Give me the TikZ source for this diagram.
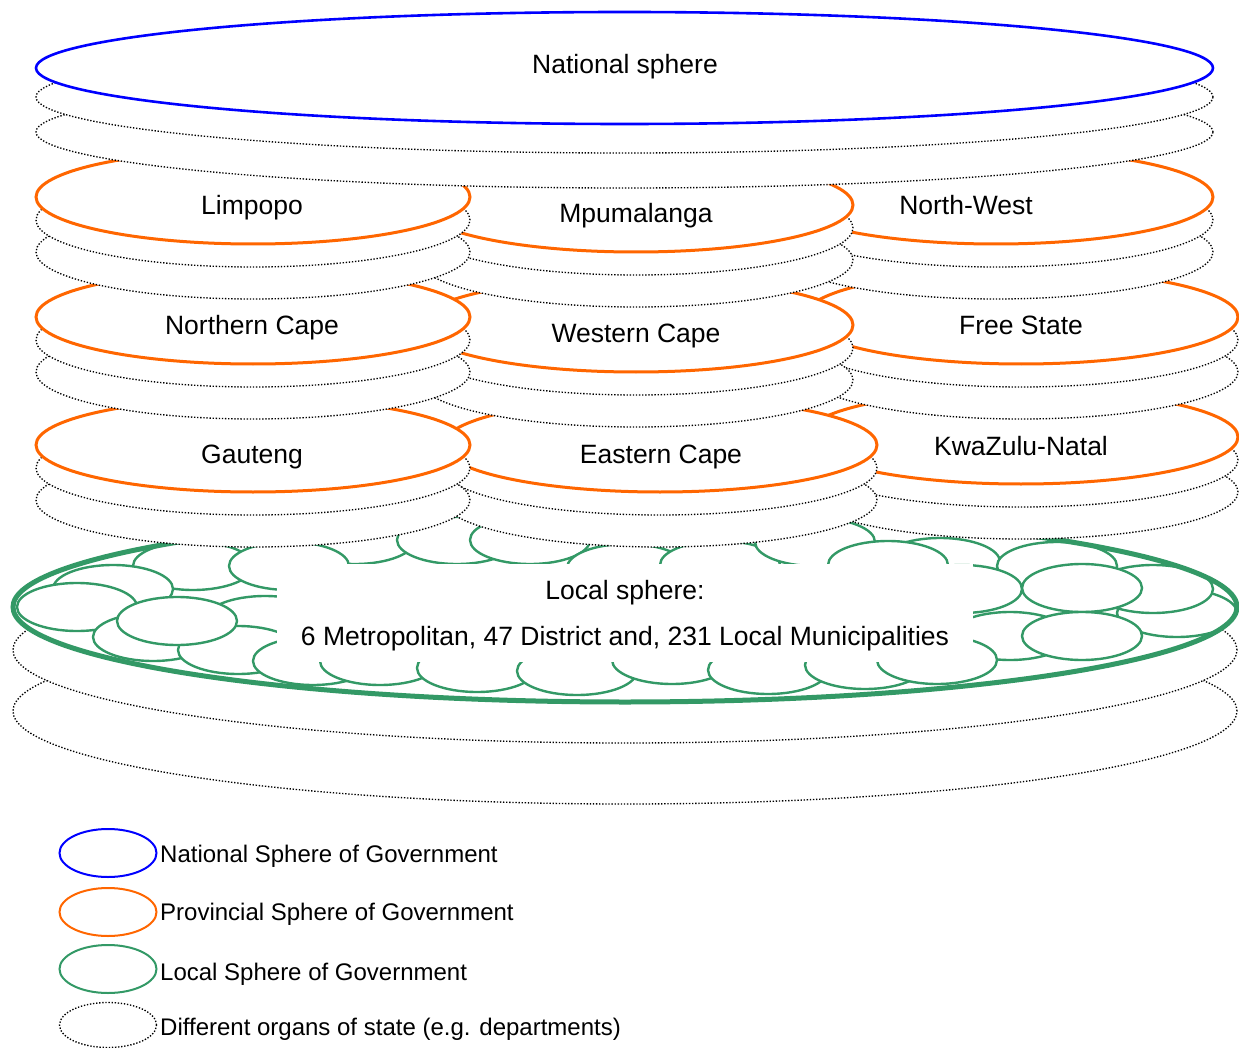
\documentclass[tikz,border=0pt]{standalone}
\usepackage{fontspec}
\setmainfont{Liberation Sans}
\usetikzlibrary{shapes.geometric}

\definecolor{natblue}{RGB}{0,0,255}
\definecolor{provorange}{RGB}{255,102,0}
\definecolor{localgreen}{RGB}{51,153,102}

\tikzset{
  sphere/.style={ellipse, inner sep=0pt, fill=white},
  organline/.style={draw=black, line width=1.35pt, dash pattern=on 1.35pt off 1.75pt},
  organ/.style={sphere, organline},
  natl/.style={sphere, draw=natblue, line width=2.6pt},
  prov/.style={sphere, draw=provorange, line width=3pt},
  provsize/.style={minimum width=434pt, minimum height=94pt},
  muni/.style={sphere, draw=localgreen, line width=2.4pt, minimum width=120pt, minimum height=48pt},
  lbl/.style={font=\fontsize{26.5}{30}\selectfont, inner sep=0pt, anchor=base},
  leg/.style={font=\fontsize{24}{28}\selectfont, inner sep=0pt, anchor=base west},
  legsize/.style={ellipse, inner sep=0pt, minimum width=97pt, minimum height=48pt},
}

% one province: two organ layers below the provincial sphere, then its name
% #1 name, #2 centre x, #3 centre y, #4 label x, #5 label
\newcommand\provstack[5]{%
  \node[organ, provsize] (#1-d2) at (#2,#3+55) {};
  \node[organ, provsize] (#1-d1) at (#2,#3+23) {};
  \node[prov, provsize] (#1) at (#2,#3) {};
  \node[lbl] (#1-t) at (#4,#3+18) {#5};
}

\begin{document}
\begin{tikzpicture}[x=1pt,y=-1pt]
\useasboundingbox (0,0) rectangle (1239,1048);

% ---------- local sphere ----------
\node[organ, minimum width=1224pt, minimum height=186pt] (local-d2) at (625,711) {};
\node[organ, minimum width=1224pt, minimum height=186pt] (local-d1) at (625,650) {};
\node[sphere, minimum width=1224pt, minimum height=190pt] (local) at (625,607) {};
\begin{scope}
  \clip (625,607) ellipse [x radius=611pt, y radius=94pt];
  \foreach [count=\i] \cx/\cy in {
      355/540, 457/540, 530/540, 627/568, 720/565, 815/542, 940/562, 888/565,
      193/566, 289/566, 113/589, 77/607,
      265/620, 153/637, 238/650, 313/661, 380/661, 477/668, 577/671, 672/660,
      768/670, 865/665,
      1057/566, 962/589, 1010/636, 937/660, 1177/613, 1153/589, 1082/588, 1082/636,
      177/621}
    \node[muni] (muni-\i) at (\cx,\cy) {};
\end{scope}
\node[ellipse, inner sep=0pt, draw=localgreen, line width=5pt,
      minimum width=1224pt, minimum height=190pt] (local-rim) at (local.center) {};
\node[fill=white, inner sep=0pt, minimum width=696pt, minimum height=98pt] (localbox) at (625,613) {};
\node[lbl] (local-t1) at (625,599) {Local sphere:};
\node[lbl] (local-t2) at (625,645) {6 Metropolitan, 47 District and, 231 Local Municipalities};

% ---------- provincial sphere, back rows first ----------
\provstack{kzn}{1021}{437}{1021}{KwaZulu-Natal}
\provstack{ecape}{660}{445}{661}{Eastern Cape}
\provstack{gauteng}{253}{445}{252}{Gauteng}

\provstack{fstate}{1021}{317}{1021}{Free State}
\provstack{wcape}{636}{325}{636}{Western Cape}
\provstack{ncape}{253}{317}{252}{Northern Cape}

\provstack{nwest}{996}{197}{966}{North-West}
\provstack{mpum}{636}{205}{636}{Mpumalanga}
\provstack{limpopo}{253}{197}{252}{Limpopo}

% ---------- national sphere ----------
\node[organ, minimum width=1177pt, minimum height=112pt] (nat-d2) at (624.5,132) {};
\node[organ, minimum width=1177pt, minimum height=112pt] (nat-d1) at (624.5,97) {};
\node[natl, minimum width=1177pt, minimum height=112pt] (nat) at (624.5,68) {};
\node[lbl] (nat-t) at (625,74) {National sphere};

% ---------- legend ----------
\node[legsize, draw=natblue, line width=2pt] (leg-nat) at (108,853) {};
\node[leg] (leg-nat-t) at (160,862) {National Sphere of Government};
\node[legsize, draw=provorange, line width=2pt] (leg-prov) at (108,912) {};
\node[leg] (leg-prov-t) at (160,920) {Provincial Sphere of Government};
\node[legsize, draw=localgreen, line width=2pt] (leg-local) at (108,969) {};
\node[leg] (leg-local-t) at (160,980) {Local Sphere of Government};
\node[legsize, organline, minimum height=45pt] (leg-organ) at (108,1025) {};
\node[leg] (leg-organ-t) at (160,1035) {Different organs of state (e.g. departments)};
\end{tikzpicture}
\end{document}
